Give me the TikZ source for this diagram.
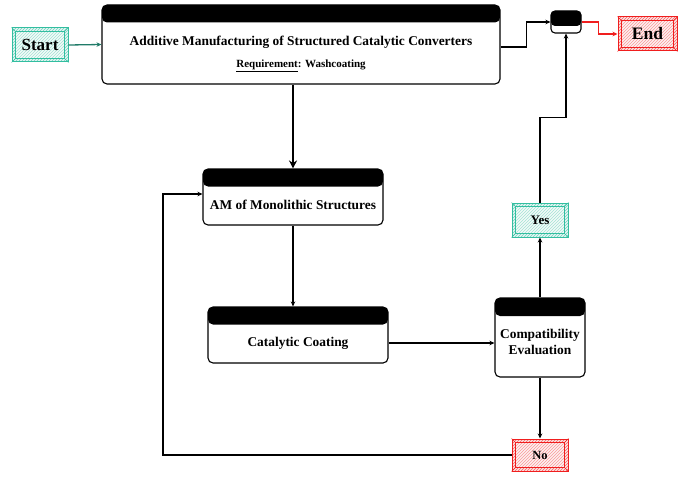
\documentclass[tikz,border=0pt]{standalone}
\usepackage{fontspec}
\setmainfont{Liberation Serif}
\usetikzlibrary{patterns,arrows.meta}
\definecolor{sktl}{RGB}{50,190,160}
\definecolor{skrd}{RGB}{240,30,30}
\newcommand\skbox[7]{%
  \node[draw=#5, line width=1pt, preaction={fill=#5!12}, pattern=north east lines, pattern color=#5!70,
        minimum width=#3pt, minimum height=#4pt, inner sep=0pt] (#1) at (#2) {};
  \fill[#5!6] ([shift={(4pt,4pt)}]#1.south west) rectangle ([shift={(-4pt,-4pt)}]#1.north east);
  \fill[pattern=north east lines, pattern color=#5!45] ([shift={(4pt,4pt)}]#1.south west) rectangle ([shift={(-4pt,-4pt)}]#1.north east);
  \draw[#5, line width=0.8pt] ([shift={(4pt,4pt)}]#1.south west) rectangle ([shift={(-4pt,-4pt)}]#1.north east);
  \draw[#5, line width=0.6pt] (#1.south west) -- ([shift={(4pt,4pt)}]#1.south west)
     (#1.south east) -- ([shift={(-4pt,4pt)}]#1.south east)
     (#1.north west) -- ([shift={(4pt,-4pt)}]#1.north west)
     (#1.north east) -- ([shift={(-4pt,-4pt)}]#1.north east);
  \node[font=\bfseries\fontsize{#7}{#7}\selectfont, inner sep=0pt] at (#1) {#6};
}
\tikzset{
  hdrbox/.style={draw=black, line width=1.1pt, fill=white, rounded corners=5pt, inner sep=0pt,
    path picture={\fill[black] (path picture bounding box.north west) rectangle ([yshift=-#1pt]path picture bounding box.north east);}},
  lbl/.style={font=\bfseries\fontsize{13.4}{15.5}\selectfont, inner sep=0pt, align=center},
  conn/.style={line width=1.4pt, -{Stealth[length=5pt,width=4.5pt]}},
}
\begin{document}
\begin{tikzpicture}[x=1pt,y=-1pt]
\useasboundingbox (0,0) rectangle (684,476);
% main boxes
\node[hdrbox=17.5, minimum width=398pt, minimum height=79pt] (main) at (301,44.5) {};
\node[lbl] (t1) at (301,42) {Additive Manufacturing of Structured Catalytic Converters};
\node[font=\bfseries\fontsize{11}{13}\selectfont, inner sep=0pt] (t2) at (301,66) {\underline{Requirement}: Washcoating};
\node[hdrbox=17.5, minimum width=180pt, minimum height=56pt] (am) at (293,197) {};
\node[lbl] (t3) at (293,205) {AM of Monolithic Structures};
\node[hdrbox=17.5, minimum width=180pt, minimum height=56pt] (cat) at (298,335) {};
\node[lbl] (t4) at (298,343) {Catalytic Coating};
\node[hdrbox=18, minimum width=90pt, minimum height=79pt] (comp) at (540,337.5) {};
\node[lbl] (t5) at (540,342) {Compatibility\\[0pt]Evaluation};
\node[hdrbox=15, rounded corners=4pt, minimum width=30pt, minimum height=22pt] (junc) at (566,22) {};
% sketch boxes
\skbox{start}{40,45}{56}{34}{sktl}{Start}{17}
\skbox{end}{647.5,34}{59}{34}{skrd}{End}{17.5}
\skbox{yes}{540,220}{56}{34}{sktl}{Yes}{13}
\skbox{no}{540,455}{56}{32}{skrd}{No}{12.5}
% connectors
\draw[conn, sktl!65!black, line width=1.3pt] (start.east) -- (main.west);
\draw[conn, line width=2.4pt, -{Stealth[length=8pt,width=8pt]}] (main.south -| am.north) -- (am.north);
\draw[conn] (am.south) -- (am.south |- cat.north);
\draw[conn] ([yshift=-8pt]cat.east) -- ([yshift=-8pt]cat.east -| comp.west);
\draw[conn] (comp.south) -- (no.north);
\draw[conn] (comp.north) -- (yes.south);
\draw[conn] (yes.north) -- ++(0,-85) -| (junc.south);
\draw[conn] ([yshift=-2.5pt]main.east) -- ++(26,0) |- (junc.west);
\draw[conn, skrd] (junc.east) -- ++(17,0) |- (end.west);
\coordinate (lp) at (163,194);
\draw[conn] (no.west) -| (lp) -- ([yshift=3pt]am.west);
\end{tikzpicture}
\end{document}
